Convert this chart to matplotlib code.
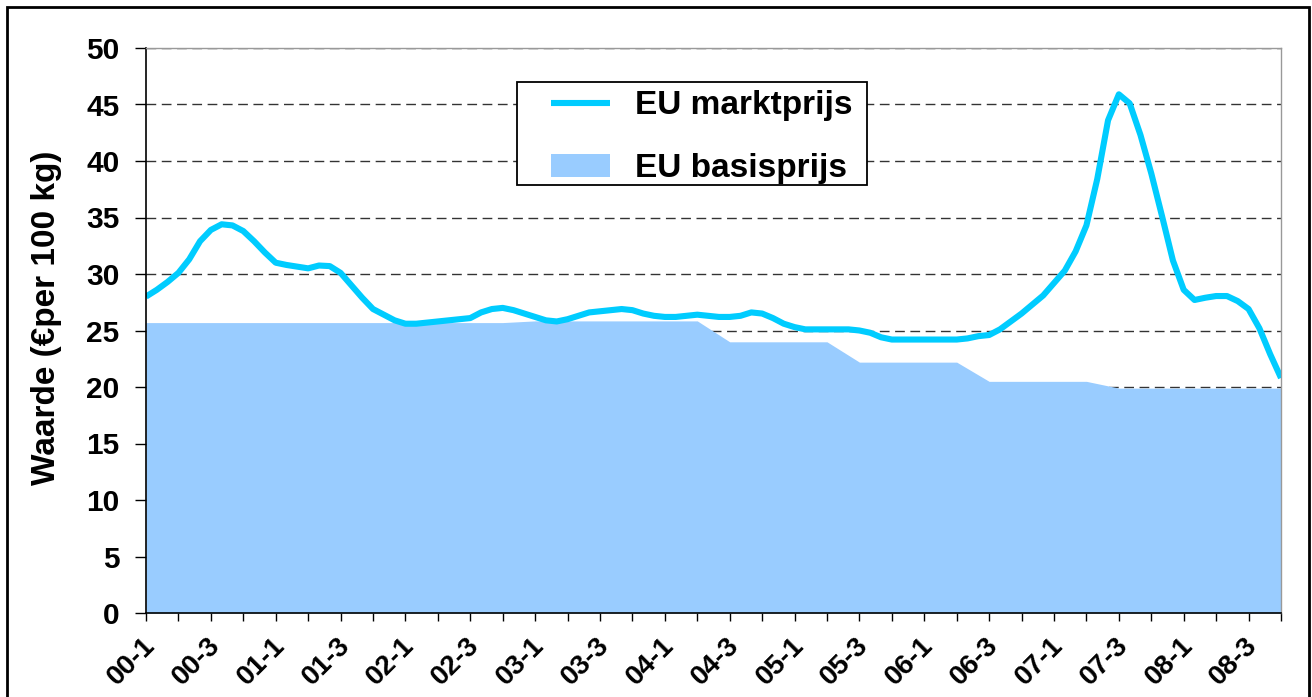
import numpy as np
import matplotlib
matplotlib.use('Agg')
import matplotlib.pyplot as plt
import matplotlib.transforms as mtransforms
from matplotlib.patches import Rectangle

plt.rcParams['font.family'] = ['Liberation Sans', 'DejaVu Sans']
plt.rcParams['font.weight'] = 'bold'

# EU marktprijs, maandelijks (maand 0 = 00-1)
marktprijs = [28.0, 28.6, 29.3, 30.1, 31.3, 32.9, 33.9, 34.4, 34.3, 33.8,
              32.9, 31.9, 31.0, 30.8, 30.65, 30.5, 30.75, 30.7, 30.1, 29.0,
              27.9, 26.9, 26.4, 25.9, 25.6, 25.6, 25.7, 25.8, 25.9, 26.0,
              26.1, 26.6, 26.9, 27.0, 26.8, 26.5, 26.2, 25.9, 25.8, 26.0,
              26.3, 26.6, 26.7, 26.8, 26.9, 26.8, 26.5, 26.3, 26.2, 26.2,
              26.3, 26.4, 26.3, 26.2, 26.2, 26.3, 26.6, 26.5, 26.1, 25.6,
              25.3, 25.1, 25.1, 25.1, 25.1, 25.1, 25.0, 24.8, 24.4, 24.2,
              24.2, 24.2, 24.2, 24.2, 24.2, 24.2, 24.3, 24.5, 24.6, 25.1,
              25.8, 26.5, 27.3, 28.1, 29.2, 30.3, 32.0, 34.3, 38.4, 43.6,
              45.9, 45.1, 42.3, 38.9, 35.1, 31.2, 28.6, 27.7, 27.9, 28.05,
              28.05, 27.6, 26.9, 25.2, 22.9, 20.8]
maanden = np.arange(len(marktprijs))

# EU basisprijs, per kwartaal
basisprijs = [25.7, 25.7, 25.7, 25.7, 25.7, 25.7, 25.7, 25.7, 25.7, 25.7,
              25.7, 25.7, 25.85, 25.85, 25.85, 25.85, 25.85, 25.85, 24.0, 24.0,
              24.0, 24.0, 22.2, 22.2, 22.2, 22.2, 20.5, 20.5, 20.5, 20.5,
              19.9, 19.9, 19.9, 19.9, 19.9, 19.9]
kwartalen = np.arange(len(basisprijs)) * 3

x_labels = ['00-1', '00-3', '01-1', '01-3', '02-1', '02-3', '03-1', '03-3', '04-1',
            '04-3', '05-1', '05-3', '06-1', '06-3', '07-1', '07-3', '08-1', '08-3']

fig = plt.figure(figsize=(13.12, 6.97), dpi=100)
ax = fig.add_axes([146 / 1312, 1 - 613 / 697, 1135 / 1312, 565 / 697])

vlak = ax.fill_between(kwartalen, basisprijs, 0, color='#99CCFF', lw=0, label='EU basisprijs', zorder=2)
lijn, = ax.plot(maanden, marktprijs, color='#00CCFF', lw=4.4, label='EU marktprijs', zorder=3,
                solid_joinstyle='round', solid_capstyle='butt')

ax.set_xlim(0, 105)
ax.set_ylim(0, 50)
ax.set_yticks(np.arange(0, 51, 5))
ax.set_xticks(kwartalen)
ax.set_xticklabels([x_labels[i // 2] if i % 2 == 0 else '' for i in range(len(kwartalen))],
                   rotation=45, ha='right', rotation_mode='anchor', fontsize=20, fontweight='bold')
ax.tick_params(axis='y', direction='out', length=8, width=1, pad=11, labelsize=21.5)
ax.tick_params(axis='x', direction='out', length=6, width=1, pad=8)
# labels iets naar links, zoals in Excel
schuif = mtransforms.ScaledTranslation(-4 / 100, 0, fig.dpi_scale_trans)
for lbl in ax.get_xticklabels():
    lbl.set_transform(lbl.get_transform() + schuif)

ax.set_axisbelow(True)
ax.yaxis.grid(True, color='#333333', lw=1, linestyle=(0, (7, 4)))
for s in ['top', 'right']:
    ax.spines[s].set_color('#999999')
    ax.spines[s].set_linewidth(1)
    ax.spines[s].set_zorder(4)
for s in ['left', 'bottom']:
    ax.spines[s].set_color('black')
    ax.spines[s].set_linewidth(1.2)
    ax.spines[s].set_zorder(4)

fig.text(46 / 1312, 1 - 318 / 697, 'Waarde (€per 100 kg)', rotation=90, ha='center', va='center',
         fontsize=24, fontweight='bold')

# legenda zonder eigen kader, kader apart getekend
leg = ax.legend([lijn, vlak], ['EU marktprijs', 'EU basisprijs'], loc='upper left',
                bbox_to_anchor=(0.357, 0.925), borderaxespad=0, fontsize=24, frameon=False,
                handlelength=1.75, handleheight=0.7, handletextpad=0.75, labelspacing=0.95,
                borderpad=0)
leg.set_zorder(6)
ax.add_patch(Rectangle((0.327, 0.7575), 0.308, 0.1825, transform=ax.transAxes, facecolor='white',
                       edgecolor='black', lw=1.3, zorder=5))

# rand rond de figuur
fig.patches.append(Rectangle((7 / 1312, -0.02), 1302 / 1312, 1.02 - 7 / 697, transform=fig.transFigure,
                             fill=False, edgecolor='black', lw=2, clip_on=False))

fig.savefig('out.png', dpi=100)
